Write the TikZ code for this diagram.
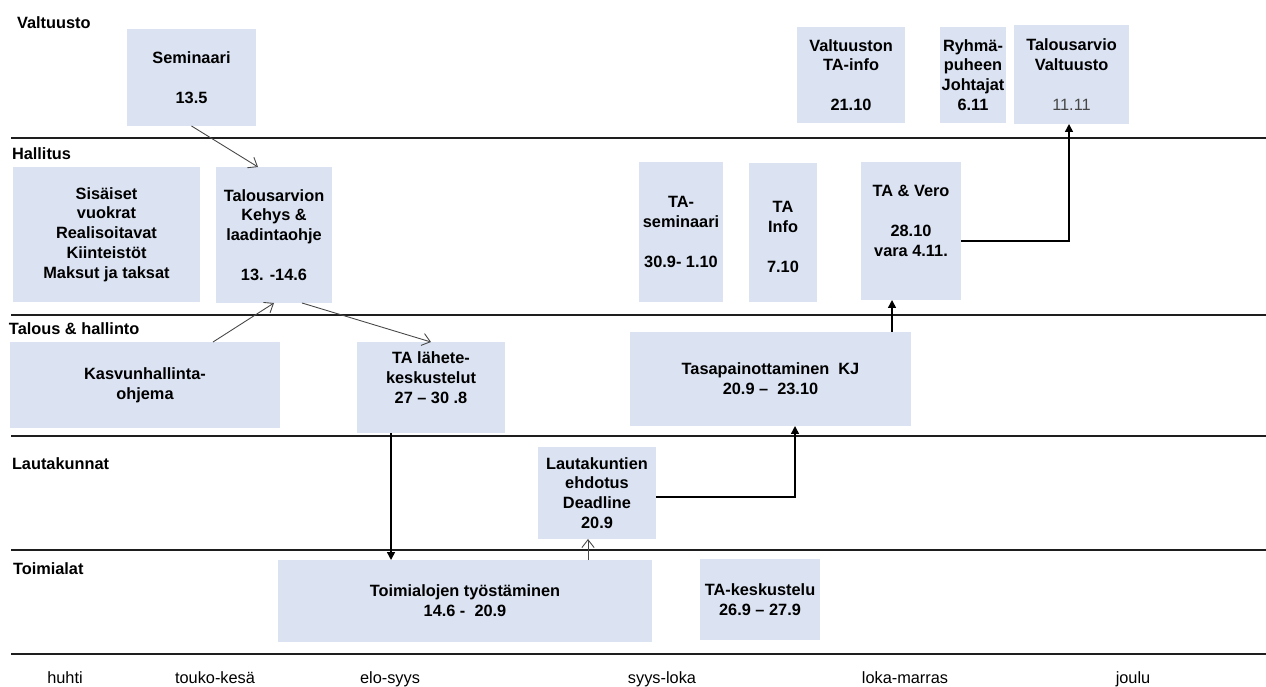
\documentclass[tikz,border=0pt]{standalone}
\usepackage{fontspec}
\setmainfont{Liberation Sans}
\usetikzlibrary{arrows.meta}
\definecolor{boxblue}{RGB}{219,227,242}
\definecolor{linegray}{RGB}{30,30,30}
\definecolor{thingray}{RGB}{70,70,70}
\definecolor{numgray}{RGB}{70,70,70}
\begin{document}
\begin{tikzpicture}[x=0.02cm,y=-0.02cm,
  every node/.style={inner sep=0pt, outer sep=0pt},
  txt/.style={font=\fontsize{9.3}{11.3}\selectfont\bfseries},
  box/.style={fill=boxblue, align=center, txt, text=black},
  lane/.style={anchor=base west, txt},
  month/.style={anchor=base, font=\fontsize{9.3}{11.3}\selectfont},
  sepline/.style={draw=linegray, line width=0.85pt},
  thinarrow/.style={draw=thingray, line width=0.5pt, -{Straight Barb[length=4.5pt,width=7pt]}},
  thickarrow/.style={draw=black, line width=0.85pt, -{Triangle[length=4.5pt,width=4.5pt]}},
]
\useasboundingbox (0,0) rectangle (1266,686);

% lane separators
\draw[sepline] (11,138) -- (1266,138);
\draw[sepline] (11,315) -- (1266,315);
\draw[sepline] (11,436) -- (1266,436);
\draw[sepline] (11,550) -- (1266,550);
\draw[sepline] (11,654) -- (1266,654);

% lane labels
\node[lane] (lv) at (17,28.5) {Valtuusto};
\node[lane] (lh) at (12,159) {Hallitus};
\node[lane] (lt) at (9,334) {Talous \& hallinto};
\node[lane] (ll) at (12,469) {Lautakunnat};
\node[lane] (lto) at (13,574) {Toimialat};

% months
\node[month] (m1) at (65,683) {huhti};
\node[month] (m2) at (215,683) {touko-kesä};
\node[month] (m3) at (390,683) {elo-syys};
\node[month] (m4) at (662,683) {syys-loka};
\node[month] (m5) at (905,683) {loka-marras};
\node[month] (m6) at (1133,683) {joulu};

% boxes
\node[box, minimum width=2.58cm, minimum height=1.94cm] (sem) at (191.5,77.5) {Seminaari\\ \mbox{}\\13.5};
\node[box, minimum width=3.74cm, minimum height=2.70cm] (sis) at (106.5,234.5) {Sisäiset\\vuokrat\\Realisoitavat\\Kiinteistöt\\Maksut ja taksat};
\node[box, minimum width=2.32cm, minimum height=2.72cm] (tal) at (274,235) {Talousarvion\\Kehys \&\\laadintaohje\\ \mbox{}\\13. -14.6};
\node[box, minimum width=5.40cm, minimum height=1.72cm] (kas) at (145,385) {Kasvunhallinta-\\ohjema};
\node[box, minimum width=2.96cm, minimum height=1.82cm] (lah) at (431,387.5) {TA lähete-\\keskustelut\\27 – 30 .8\\ \mbox{}};
\node[box, minimum width=2.36cm, minimum height=1.84cm] (laut) at (597,493) {Lautakuntien\\ehdotus\\Deadline\\20.9};
\node[box, minimum width=7.48cm, minimum height=1.64cm] (toim) at (465,601) {Toimialojen työstäminen\\14.6 -\ \ 20.9};
\node[box, minimum width=5.62cm, minimum height=1.88cm] (tasa) at (770.5,379) {Tasapainottaminen\ \ KJ\\20.9 –\ \ 23.10};
\node[box, minimum width=2.40cm, minimum height=1.62cm] (kesk) at (760,599.5) {TA-keskustelu\\26.9 – 27.9};
\node[box, minimum width=2.15cm, minimum height=1.92cm] (vinfo) at (851,75) {Valtuuston\\TA-info\\ \mbox{}\\21.10};
\node[box, minimum width=1.33cm, minimum height=1.92cm] (ryh) at (973,75) {Ryhmä-\\puheen\\Johtajat\\6.11};
\node[box, minimum width=2.30cm, minimum height=1.98cm] (tav) at (1071.5,74.5) {Talousarvio\\Valtuusto\\ \mbox{}\\{\mdseries\color{numgray}11.11}};
\node[box, minimum width=1.67cm, minimum height=2.80cm] (tasem) at (681,232) {TA-\\seminaari\\ \mbox{}\\30.9- 1.10};
\node[box, minimum width=1.35cm, minimum height=2.78cm] (tinfo) at (783,232.5) {\mbox{}\\TA\\Info\\ \mbox{}\\7.10};
\node[box, minimum width=2.00cm, minimum height=2.76cm] (vero) at (911,231) {TA \& Vero\\ \mbox{}\\28.10\\vara 4.11.\\ \mbox{}};

% connectors
\draw[thinarrow] (sem.south) -- ([xshift=-0.32cm]tal.north);
\draw[thinarrow] ([xshift=1.36cm]kas.north) -- (tal.south);
\draw[thinarrow] ([xshift=0.56cm]tal.south) -- (lah.north);
\draw[thickarrow] ([xshift=-0.8cm]lah.south) -- ([xshift=-0.8cm]lah.south |- toim.north);
\draw[thinarrow] ([xshift=-0.18cm]laut.south |- toim.north) -- ([xshift=-0.18cm]laut.south);
\draw[thickarrow] ([yshift=-0.08cm]laut.east) -| ([xshift=0.49cm]tasa.south);
\draw[thickarrow] ([xshift=-0.38cm]vero.south |- tasa.north) -- ([xshift=-0.38cm]vero.south);
\draw[thickarrow] ([yshift=-0.2cm]vero.east) -| ([xshift=-0.05cm]tav.south);
\end{tikzpicture}
\end{document}
